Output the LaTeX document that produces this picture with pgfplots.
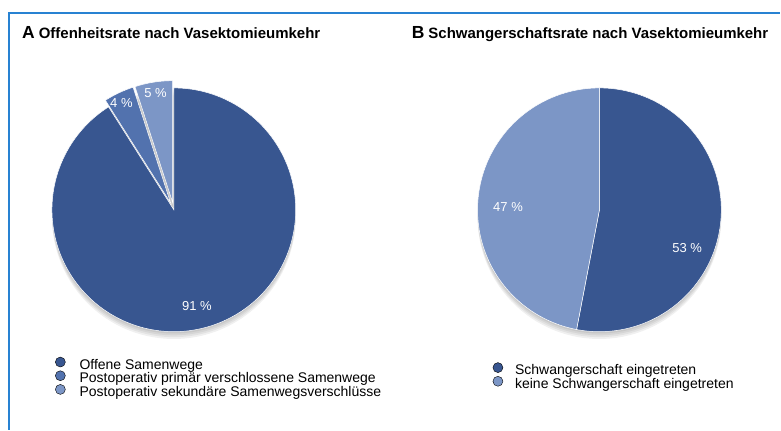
\documentclass[border=0pt]{standalone}
\usepackage{pgfplots}
\pgfplotsset{compat=1.18}
\usepackage{fontspec}
\setmainfont{Liberation Sans}
\definecolor{cA}{RGB}{56,86,144}
\definecolor{cB}{RGB}{82,114,174}
\definecolor{cC}{RGB}{124,150,198}
\definecolor{frameblue}{RGB}{40,130,210}
% data (percent)
\def\pAa{91}\def\pAb{4}\def\pAc{5}
\def\pBa{53}\def\pBb{47}
\tikzset{lbl/.style={text=white, font=\fontsize{13}{15}\selectfont, inner sep=1pt}}
\begin{document}
\begin{tikzpicture}
\path (0pt,0pt) rectangle (781pt,430pt);
\draw[frameblue, line width=1.5pt] (9pt,0pt) -- (9pt,417pt) -- (781pt,417pt);
\node[anchor=base west, inner sep=0] at (22pt,391pt) {{\fontsize{17.5}{18}\selectfont\bfseries A}\hspace{4pt}{\fontsize{15}{17}\selectfont\bfseries Offenheitsrate nach Vasektomieumkehr}};
\node[anchor=base west, inner sep=0] at (412pt,391pt) {{\fontsize{17.5}{18}\selectfont\bfseries B}\hspace{4pt}{\fontsize{15}{17}\selectfont\bfseries Schwangerschaftsrate nach Vasektomieumkehr}};
\pgfplotsset{pie/.style={hide axis, x=122pt, y=122pt, xmin=-1.2,xmax=1.2,ymin=-1.2,ymax=1.2,
  clip=false, anchor=origin, legend cell align=left,
  legend style={draw=none, fill=none, anchor=north west, font=\fontsize{14}{14}\selectfont,
    row sep=-2pt, inner sep=0pt, nodes={inner sep=0pt, text height=10.5pt, text depth=3.5pt}},
  legend image code/.code={\fill[##1] (0pt,3.5pt) circle (5pt);}}}
% ---------- A ----------
\begin{axis}[pie, at={(174pt,220pt)}, legend style={at={(0.0936,-0.002)},
    /tikz/every odd column/.append style={column sep=14pt}}]
\foreach \o in {0.015,0.03,0.045,0.06}{
  \addplot[forget plot, fill=black, draw=none, fill opacity=0.06, domain=0:360, samples=120]
    ({cos(x)},{sin(x)-\o});
}
\pgfmathsetmacro{\eA}{90-3.6*\pAa}
\addplot[forget plot, fill=cA, draw=white, line width=0.5pt, domain=\eA:90, samples=200]
  ({cos(x)},{sin(x)}) -- (axis cs:0,0) -- cycle;
\pgfmathsetmacro{\mB}{90+3.6*\pAc+1.8*\pAb}
\addplot[forget plot, fill=cB, draw=white, line width=0.5pt, domain=90+3.6*\pAc:90+3.6*\pAc+3.6*\pAb, samples=30]
  ({0.06*cos(\mB)+cos(x)},{0.06*sin(\mB)+sin(x)}) -- (axis cs:{0.06*cos(\mB)},{0.06*sin(\mB)}) -- cycle;
\pgfmathsetmacro{\mC}{90+1.8*\pAc}
\addplot[forget plot, fill=cC, draw=white, line width=0.5pt, domain=90:90+3.6*\pAc, samples=30]
  ({0.06*cos(\mC)+cos(x)},{0.06*sin(\mC)+sin(x)}) -- (axis cs:{0.06*cos(\mC)},{0.06*sin(\mC)}) -- cycle;
\node[lbl] at (axis cs:0.19,-0.79) {\pAa\ \%};
\node[lbl] at (axis cs:-0.43,0.88) {\pAb\ \%};
\node[lbl] at (axis cs:-0.15,0.96) {\pAc\ \%};
\addlegendimage{fill=cA}\addlegendentry{Offene Samenwege}
\addlegendimage{fill=cB}\addlegendentry{Postoperativ primär verschlossene Samenwege}
\addlegendimage{fill=cC}\addlegendentry{Postoperativ sekundäre Samenwegsverschlüsse}
\end{axis}
% ---------- B ----------
\begin{axis}[pie, at={(600pt,220pt)}, legend style={at={(0.1346,-0.021)},
    /tikz/every odd column/.append style={column sep=12pt}}]
\foreach \o in {0.015,0.03,0.045,0.06}{
  \addplot[forget plot, fill=black, draw=none, fill opacity=0.06, domain=0:360, samples=120]
    ({cos(x)},{sin(x)-\o});
}
\pgfmathsetmacro{\fA}{90-3.6*\pBa}
\addplot[forget plot, fill=cA, draw=white, line width=0.5pt, domain=\fA:90, samples=150]
  ({cos(x)},{sin(x)}) -- (axis cs:0,0) -- cycle;
\addplot[forget plot, fill=cC, draw=white, line width=0.5pt, domain=90:90+3.6*\pBb, samples=150]
  ({cos(x)},{sin(x)}) -- (axis cs:0,0) -- cycle;
\node[lbl] at (axis cs:0.72,-0.31) {\pBa\ \%};
\node[lbl] at (axis cs:-0.75,0.02) {\pBb\ \%};
\addlegendimage{fill=cA}\addlegendentry{Schwangerschaft eingetreten}
\addlegendimage{fill=cC}\addlegendentry{keine Schwangerschaft eingetreten}
\end{axis}
\end{tikzpicture}
\end{document}
